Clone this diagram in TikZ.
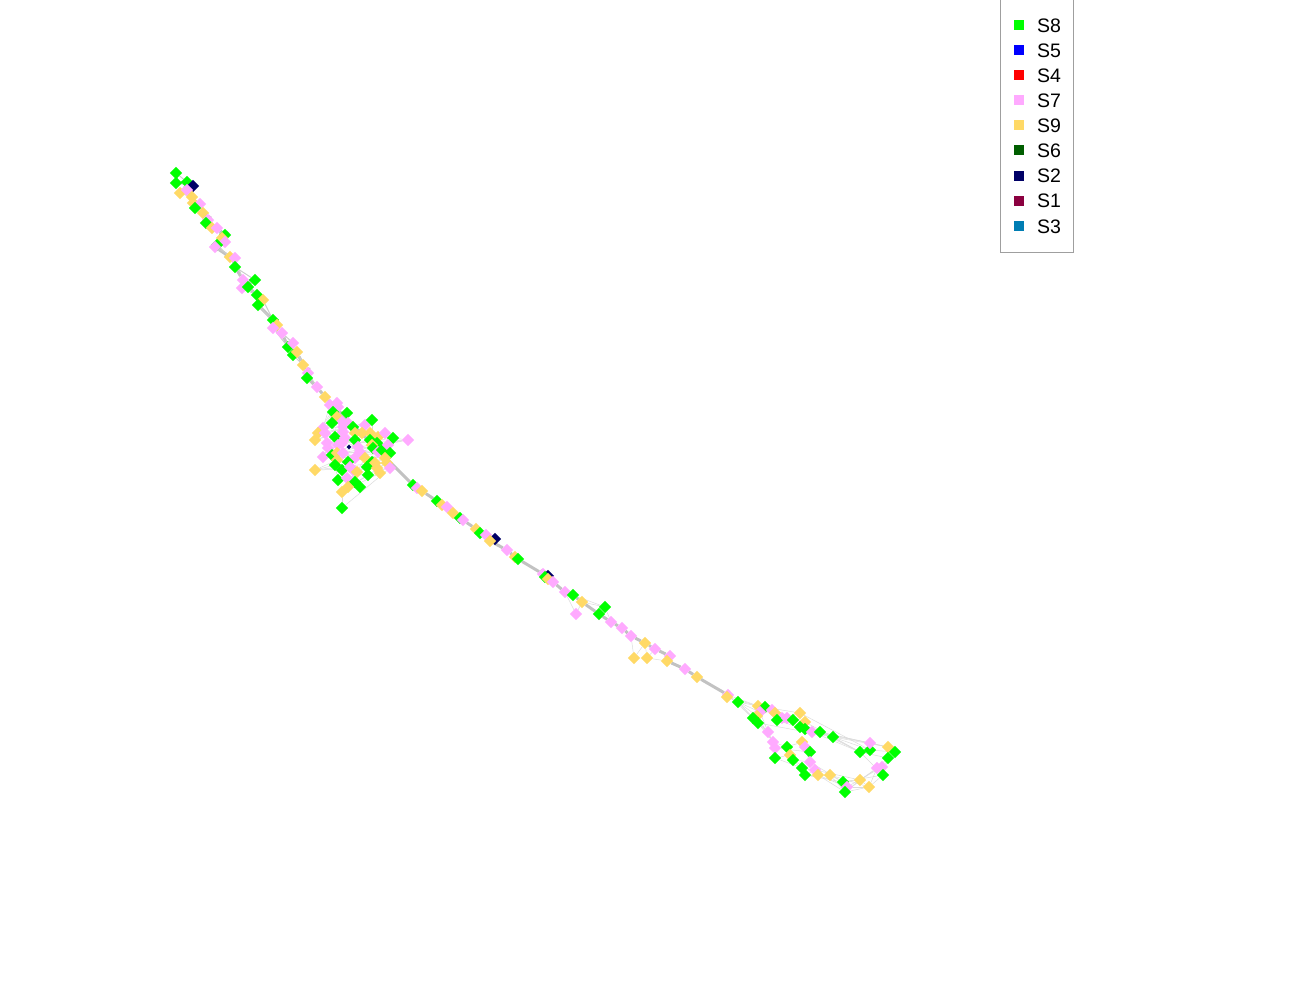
\documentclass[tikz,border=0pt]{standalone}
\usepackage{fontspec}
\setmainfont{Liberation Sans}
\usetikzlibrary{shapes.geometric}
\definecolor{cG}{HTML}{00FF00}
\definecolor{cB}{HTML}{0000FF}
\definecolor{cR}{HTML}{FF0000}
\definecolor{cP}{HTML}{FFAAFF}
\definecolor{cY}{HTML}{FFD966}
\definecolor{cD}{HTML}{005E00}
\definecolor{cN}{HTML}{000066}
\definecolor{cM}{HTML}{8B0040}
\definecolor{cT}{HTML}{007DB3}
\pgfdeclarelayer{bg}
\pgfsetlayers{bg,main}
\begin{document}
\begin{tikzpicture}[x=1pt,y=-1pt,
  dia/.style={shape=diamond,inner sep=0pt,minimum size=12.5pt,draw=none},
  bb/.style={draw=gray!48,line width=3pt},
  md/.style={draw=gray!40,line width=1pt},
  lt/.style={draw=gray!28,line width=0.5pt},
  legsq/.style={draw=none,inner sep=0pt,minimum size=10pt},
  legtx/.style={anchor=west,inner sep=0pt,font=\fontsize{19.5}{22}\selectfont}]
\useasboundingbox (0,0) rectangle (1300,1000);
% strand A
\foreach \x/\y/\c [count=\i] in {176/173/cG,176/183/cG,187/182/cG,193/186/cN,180/193/cY,187/190/cP,192/197/cY,193/203/cY,200/204/cP,195/208/cG,203/213/cY,208/220/cP,206/223/cG,212/228/cY,217/228/cP,225/235/cG,222/238/cY,225/242/cP,217/245/cG,215/247/cP,230/257/cY,235/258/cP,235/267/cG,243/280/cP,255/280/cG,242/288/cP,248/287/cG,257/295/cG,263/300/cY,258/305/cG,273/320/cG,277/325/cY,273/328/cP,282/333/cP,288/347/cG,293/343/cP,293/355/cG,297/352/cY,303/365/cY,308/373/cP,307/378/cG,317/387/cP}
  \node[dia,fill=\c] (a\i) at (\x,\y) {};
% cluster B
\foreach \x/\y/\c [count=\i] in {325/397/cY,330/405/cP,337/403/cP,338/407/cP,333/412/cG,347/413/cG,337/417/cY,342/422/cP,348/423/cP,332/423/cG,323/428/cP,318/433/cY,325/433/cP,315/440/cY,343/432/cP,335/437/cG,345/438/cP,327/443/cP,338/445/cP,343/427/cP,353/427/cG,365/425/cP,372/420/cG,355/433/cY,362/433/cY,342/443/cP,355/440/cG,370/433/cY,378/437/cY,370/440/cG,377/443/cG,372/445/cY,385/433/cP,393/438/cG,408/440/cP,358/447/cP,373/448/cG,378/452/cP,382/450/cG,388/445/cP,390/453/cG,323/457/cP,328/448/cP,332/455/cG,337/453/cY,337/460/cY,343/453/cP,360/452/cP,355/458/cP,348/462/cG,365/458/cY,372/462/cG,385/458/cY,375/463/cY,315/470/cY,335/465/cG,342/470/cG,350/467/cP,353/470/cP,357/472/cY,367/467/cG,377/468/cY,387/463/cY,390/468/cP,338/480/cG,347/478/cP,355/482/cG,360/487/cG,348/487/cY,368/475/cG,380/473/cY,342/492/cY,342/508/cG}
  \node[dia,fill=\c] (b\i) at (\x,\y) {};
\node[dia,fill=cN,minimum size=5pt] (bn) at (349,447) {};
% strand C
\foreach \x/\y/\c [count=\i] in {413/485/cG,417/488/cP,422/491/cY,437/501/cG,442/505/cY,447/507/cP,453/513/cY,460/518/cG,463/520/cP,476/529/cY,480/533/cG,486/535/cP,495/539/cN,490/541/cY,507/550/cP,515/557/cY,518/559/cG,543/574/cP,548/576/cN,545/577/cG,548/579/cY,553/582/cP,565/592/cP,573/595/cG,582/602/cY,576/614/cP,605/607/cG,599/614/cG,611/622/cP,622/628/cP,631/636/cP,645/643/cY,655/649/cP,634/658/cY,647/658/cY,670/656/cP,667/661/cY,685/669/cP,697/677/cY}
  \node[dia,fill=\c] (c\i) at (\x,\y) {};
% loop D
\foreach \x/\y/\c [count=\i] in {728/695/cP,727/697/cY,738/702/cG,758/706/cY,765/707/cG,760/712/cP,757/716/cY,753/718/cG,772/710/cP,775/713/cY,782/718/cP,777/720/cG,800/713/cY,787/718/cP,793/720/cG,805/722/cY,800/727/cG,805/729/cG,812/732/cP,820/732/cG,833/737/cG,758/723/cG,768/732/cP,773/742/cP,787/747/cG,802/742/cY,805/747/cP,810/752/cG,775/748/cP,775/758/cG,790/755/cY,793/760/cG,810/762/cP,802/768/cG,815/770/cP,805/775/cG,818/775/cY,830/775/cY,843/782/cG,847/787/cP,845/792/cG,860/780/cY,869/787/cY,877/768/cP,882/767/cP,883/775/cG,860/752/cG,870/750/cG,870/743/cP,888/747/cY,895/752/cG,888/758/cG}
  \node[dia,fill=\c] (d\i) at (\x,\y) {};
\begin{pgfonlayer}{bg}
  \foreach \i in {1,...,41} {\pgfmathtruncatemacro\j{\i+1}\draw[bb] (a\i) -- (a\j);}
  \foreach \i in {1,...,40} {\pgfmathtruncatemacro\j{\i+2}\draw[md] (a\i) -- (a\j);}
  \foreach \i in {1,...,72} {\pgfmathtruncatemacro\j{\i+1}\draw[lt] (b\i) -- (b\j);}
  \foreach \i in {1,...,64} {\pgfmathtruncatemacro\j{\i+9}\draw[lt] (b\i) -- (b\j);}
  \draw[bb] (a42) -- (b1);
  \draw[bb] (b1) -- (c1);
  \foreach \u/\v in {1/2,2/3,3/4,4/5,5/6,6/7,7/8,8/9,9/10,10/11,11/12,12/14,14/15,15/16,16/17,17/18,18/20,20/21,21/22,22/23,23/24,24/25,25/28,28/29,29/30,30/31,31/32,32/33,33/36,36/37,37/38,38/39}
    \draw[bb] (c\u) -- (c\v);
  \foreach \u/\v in {23/26,25/26,24/27,25/27,27/28,27/29,31/34,32/34,32/35,33/35,35/37}
    \draw[lt] (c\u) -- (c\v);
  \draw[bb] (c39) -- (d1);
  \foreach \i in {1,...,51} {\pgfmathtruncatemacro\j{\i+1}\draw[lt] (d\i) -- (d\j);}
  \foreach \u/\v in {1/22,3/22,3/8,8/23,22/24,24/29,29/30,30/34,34/36,36/39,37/40,38/41,39/42,42/44,43/46,41/43,40/45,21/47,21/48,20/47,19/49,21/50,13/48,16/47,18/49,44/52,45/51,46/52,4/13,5/16,10/18,12/19,17/21,20/49,18/47,15/21,38/43,37/41,35/42,33/39,3/6,3/7,1/4,2/9,6/23,7/24,23/29,31/36,32/37,26/33,27/35,39/46,41/44,40/43,47/52,48/51,49/50}
    \draw[lt] (d\u) -- (d\v);
\end{pgfonlayer}
% legend
\draw[gray!75,line width=0.8pt] (1000,-5) rectangle (1073,252);
\foreach \c/\t [count=\k] in {cG/S8,cB/S5,cR/S4,cP/S7,cY/S9,cD/S6,cN/S2,cM/S1,cT/S3} {
  \node[legsq,fill=\c] (lq\k) at (1019,{25+25.1*(\k-1)}) {};
  \node[legtx] (lt\k) at (1037,{25.5+25.1*(\k-1)}) {\t};
}
\end{tikzpicture}
\end{document}
